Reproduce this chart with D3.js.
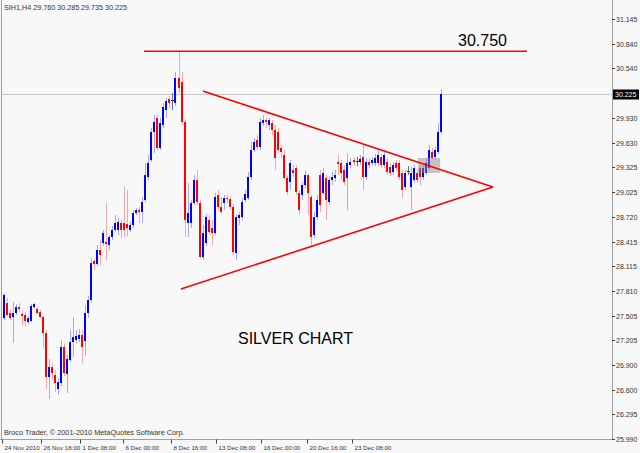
<!DOCTYPE html>
<html><head><meta charset="utf-8">
<script src="https://cdnjs.cloudflare.com/ajax/libs/d3/7.8.5/d3.min.js"></script>
<style>body{margin:0;background:#f8f8f8;} svg{display:block;}</style>
</head><body><svg id="c" width="640" height="453"></svg>
<script>
const symbolTitle = "SIH1,H4";
const lastQuote = [29.760, 30.285, 29.735, 30.225];
const opens = [27.477,27.661,27.539,27.490,27.539,27.612,27.527,27.514,27.428,27.441,27.612,27.588,27.551,27.490,27.293,26.754,26.876,26.778,26.607,26.680,27.122,26.791,26.962,27.183,27.208,27.220,27.269,27.195,27.539,27.698,28.177,28.140,28.312,28.397,28.410,28.373,28.471,28.557,28.557,28.643,28.643,28.630,28.557,28.618,28.765,28.802,28.778,28.925,29.207,29.415,29.759,29.931,29.563,29.845,30.029,30.164,30.151,30.115,30.421,30.372,29.882,28.643,28.643,28.888,29.170,28.888,28.226,28.397,28.680,28.581,28.520,28.986,28.839,28.888,28.949,28.937,28.839,28.275,28.704,28.716,28.925,28.949,29.207,29.538,29.661,29.575,29.869,29.906,29.845,29.869,29.784,29.759,29.563,29.477,29.195,29.146,29.293,29.317,29.011,28.986,29.109,29.231,28.962,28.496,28.716,29.231,29.011,29.195,28.900,29.170,29.195,29.391,29.379,29.293,29.195,29.354,29.415,29.403,29.391,29.452,29.207,29.391,29.379,29.379,29.379,29.452,29.354,29.391,29.330,29.268,29.379,29.379,29.256,29.084,29.281,29.084,29.170,29.256,29.317,29.207,29.256,29.317,29.514,29.452,29.514,29.760];
const highs = [27.784,27.723,27.576,27.674,27.649,27.661,27.576,27.551,27.502,27.649,27.661,27.612,27.576,27.502,27.330,26.975,26.925,26.840,26.741,27.208,27.171,27.024,27.330,27.490,27.330,27.343,27.330,27.637,27.747,28.213,28.201,28.373,28.434,28.557,28.888,28.496,28.606,28.741,28.704,28.680,29.084,29.048,28.655,28.802,28.827,28.839,28.962,29.379,29.477,29.808,29.967,29.967,29.931,30.115,30.176,30.200,30.237,30.495,30.750,30.495,29.906,29.133,28.925,29.231,29.293,28.925,28.618,28.753,28.741,28.680,29.011,29.048,28.962,28.986,28.986,28.974,28.876,28.753,28.778,28.949,29.048,29.268,29.636,29.685,29.722,29.931,29.967,29.931,29.931,29.906,29.845,29.808,29.600,29.538,29.231,29.416,29.354,29.354,29.048,29.146,29.293,29.256,28.986,28.778,28.986,29.293,29.317,29.231,29.219,29.268,29.293,29.477,29.416,29.354,29.501,29.440,29.452,29.452,29.477,29.600,29.440,29.440,29.452,29.489,29.538,29.489,29.538,29.440,29.379,29.391,29.415,29.415,29.293,29.293,29.342,29.330,29.354,29.293,29.354,29.354,29.440,29.600,29.563,29.575,29.870,30.285];
const lows = [27.453,27.502,27.453,27.171,27.514,27.551,27.392,27.379,27.404,27.428,27.588,27.527,27.477,27.109,26.607,26.484,26.717,26.570,26.533,26.643,26.766,26.558,26.938,26.999,27.171,27.183,26.925,27.011,27.477,27.674,28.066,28.115,28.128,28.361,28.189,28.312,28.434,28.532,28.496,28.459,28.471,28.483,28.532,28.581,28.741,28.643,28.643,28.900,29.170,29.391,29.501,29.538,29.538,29.808,29.931,30.054,30.029,30.078,30.237,29.845,28.471,28.471,28.581,28.863,28.863,28.213,28.189,28.361,28.496,28.373,28.496,28.802,28.753,28.802,28.888,28.802,28.250,28.189,28.618,28.680,28.900,28.925,29.170,29.514,29.538,29.538,29.833,29.808,29.784,29.722,29.293,29.501,29.440,29.170,28.986,29.048,29.207,28.986,28.741,28.925,29.072,28.741,28.348,28.459,28.680,28.778,28.986,28.680,28.863,29.109,29.146,29.231,29.170,29.109,28.802,29.317,29.342,29.342,29.354,29.048,29.170,29.317,29.342,29.342,29.342,29.317,29.317,29.231,29.219,29.231,29.281,29.170,28.949,29.048,29.231,28.802,29.133,29.133,29.109,29.170,29.231,29.293,29.415,29.415,29.489,29.735];
const closes = [27.760,27.514,27.477,27.539,27.612,27.588,27.502,27.441,27.477,27.625,27.649,27.539,27.490,27.293,26.754,26.876,26.803,26.680,26.692,27.122,26.803,26.975,27.183,27.244,27.257,27.269,27.122,27.539,27.698,28.152,28.140,28.312,28.250,28.520,28.385,28.471,28.557,28.643,28.655,28.557,28.557,28.581,28.618,28.765,28.802,28.778,28.900,29.231,29.379,29.759,29.882,29.563,29.869,30.066,30.139,30.115,30.151,30.421,30.299,29.882,28.680,28.765,28.888,29.170,28.900,28.226,28.520,28.716,28.532,28.520,28.962,28.839,28.778,28.949,28.937,28.839,28.287,28.716,28.741,28.900,28.998,29.207,29.538,29.636,29.575,29.882,29.906,29.882,29.906,29.784,29.440,29.538,29.514,29.195,29.023,29.379,29.256,29.023,28.802,29.109,29.231,29.011,28.471,28.716,28.925,28.863,29.256,28.925,29.170,29.207,29.231,29.367,29.256,29.146,29.379,29.391,29.391,29.403,29.428,29.207,29.391,29.354,29.415,29.440,29.477,29.354,29.477,29.268,29.256,29.354,29.317,29.207,29.048,29.256,29.281,29.256,29.317,29.170,29.207,29.317,29.379,29.538,29.440,29.538,29.760,30.225];
const priceTicks = [31.145,30.840,30.540,29.930,29.630,29.325,29.025,28.720,28.415,28.115,27.810,27.505,27.205,26.900,26.600,26.295,25.990];
const priceTickLabels = ["31.145","30.840","30.540","29.930","29.630","29.325","29.025","28.720","28.415","28.115","27.810","27.505","27.205","26.900","26.600","26.295","25.990"];
const timeLabels = ["24 Nov 2010","26 Nov 18:00","1 Dec 08:00","6 Dec 00:00","8 Dec 16:00","13 Dec 08:00","16 Dec 00:00","20 Dec 16:00","23 Dec 08:00"];
const timeLabelBars = [0,13,26,40,56,71,86,101,116];
const resistanceLevel = 30.750;
const resistanceSpan = [46.6, 173.5];
const upperTrend = [[66.1, 30.262],[162.2, 29.084]];
const lowerTrend = [[58.8, 27.833],[162.2, 29.084]];
const breakoutBox = [137.4, 144.7, 29.44, 29.256];
const titleText = "SILVER CHART";
const copyrightText = "Broco Trader, \u00a9 2001-2010 MetaQuotes Software Corp.";

const svg = d3.select("#c");
const W = 640, H = 453, axisX = 612, axisY = 439.5;
const x = d3.scaleLinear().domain([0, 145]).range([3.5, 441]);
const y = d3.scaleLinear().domain([25.990, 31.145]).range([439.3, 19]);
const bars = d3.range(opens.length).map(i => ({i, o: opens[i], h: highs[i], l: lows[i], c: closes[i]}));

svg.append("rect").attr("width", W).attr("height", H).attr("fill", "#f8f8f8");

// current price line
svg.append("line").attr("x1", 2).attr("x2", axisX).attr("y1", Math.round(y(lastQuote[3])) + 0.5).attr("y2", Math.round(y(lastQuote[3])) + 0.5)
  .attr("stroke", "#c4c8c8").attr("stroke-width", 1);

// candles
const g = svg.append("g");
g.selectAll(".wick").data(bars).join("rect")
  .attr("x", d => Math.round(x(d.i)))
  .attr("y", d => y(d.h)).attr("width", 1)
  .attr("height", d => Math.max(1, y(d.l) - y(d.h)))
  .attr("fill", d => d.c > d.o ? "#a8a8f4" : (d.c < d.o ? "#f4a8a8" : "#707070"));
g.selectAll(".body").data(bars).join("rect")
  .attr("x", d => Math.round(x(d.i)) - 1)
  .attr("y", d => y(Math.max(d.o, d.c)))
  .attr("width", d => d.c === d.o ? 3 : 2)
  .attr("height", d => Math.max(1, Math.abs(y(d.o) - y(d.c))))
  .attr("fill", d => d.c > d.o ? "#0000ff" : (d.c < d.o ? "#ff0000" : "#303030"));

// breakout box
svg.append("rect")
  .attr("x", x(breakoutBox[0])).attr("y", y(breakoutBox[2]))
  .attr("width", x(breakoutBox[1]) - x(breakoutBox[0]))
  .attr("height", y(breakoutBox[3]) - y(breakoutBox[2]))
  .attr("fill", "#909090").attr("opacity", 0.5);

// trend lines
const lineGen = d3.line().x(d => x(d[0])).y(d => y(d[1]));
svg.append("path").attr("d", lineGen(upperTrend)).attr("stroke", "#ff0000").attr("stroke-width", 1.6).attr("fill", "none");
svg.append("path").attr("d", lineGen(lowerTrend)).attr("stroke", "#ff0000").attr("stroke-width", 1.6).attr("fill", "none");
svg.append("path").attr("d", lineGen([[resistanceSpan[0], resistanceLevel],[resistanceSpan[1], resistanceLevel]]))
  .attr("stroke", "#ff0000").attr("stroke-width", 1.6).attr("fill", "none");
svg.append("text").attr("x", x(resistanceSpan[1]) - 69).attr("y", y(resistanceLevel) - 5)
  .attr("font-family", "Liberation Sans, Arial, sans-serif").attr("font-size", 16).attr("fill", "#000")
  .text(resistanceLevel.toFixed(3));

// frame
svg.append("line").attr("x1", axisX + 0.5).attr("x2", axisX + 0.5).attr("y1", 0).attr("y2", axisY).attr("stroke", "#a0a0a0");
svg.append("line").attr("x1", 0).attr("x2", axisX + 0.5).attr("y1", axisY).attr("y2", axisY).attr("stroke", "#a0a0a0");
svg.append("line").attr("x1", 1.5).attr("x2", 1.5).attr("y1", 0).attr("y2", axisY).attr("stroke", "#a0a0a0");

// price axis
const smallFont = "Liberation Sans, Arial, sans-serif";
const pa = svg.append("g");
priceTicks.forEach((p, k) => {
  const yy = Math.round(y(p)) + 0.5;
  pa.append("line").attr("x1", axisX).attr("x2", axisX + 3).attr("y1", yy).attr("y2", yy).attr("stroke", "#404040");
  pa.append("text").attr("x", axisX + 4).attr("y", yy + 2.5).attr("font-family", smallFont).attr("font-size", 7)
    .attr("fill", "#333").text(priceTickLabels[k]);
});
const cy = Math.round(y(lastQuote[3])) + 0.5;
pa.append("rect").attr("x", axisX + 1).attr("y", cy - 5).attr("width", 26).attr("height", 10).attr("fill", "#000");
pa.append("text").attr("x", axisX + 3).attr("y", cy + 2.5).attr("font-family", smallFont).attr("font-size", 7)
  .attr("fill", "#fff").text(lastQuote[3].toFixed(3));

// time axis
timeLabels.forEach((t, k) => {
  const xx = Math.round(x(timeLabelBars[k]) - 1.5) + 0.5;
  svg.append("line").attr("x1", xx).attr("x2", xx).attr("y1", axisY).attr("y2", axisY + 4).attr("stroke", "#404040");
  svg.append("text").attr("x", xx + 2).attr("y", 450).attr("font-family", smallFont).attr("font-size", 6.2)
    .attr("fill", "#333").text(t);
});

// header and footer
svg.append("text").attr("x", 4).attr("y", 10).attr("font-family", smallFont).attr("font-size", 7.2).attr("fill", "#333")
  .text(symbolTitle + "  " + lastQuote.map(v => v.toFixed(3)).join(" "));
svg.append("text").attr("x", 4).attr("y", 435).attr("font-family", smallFont).attr("font-size", 7.3).attr("fill", "#333")
  .text(copyrightText);

svg.append("text").attr("x", 238).attr("y", 344).attr("font-family", "Liberation Sans, Arial, sans-serif")
  .attr("font-size", 16).attr("fill", "#000").text(titleText);
</script></body></html>
